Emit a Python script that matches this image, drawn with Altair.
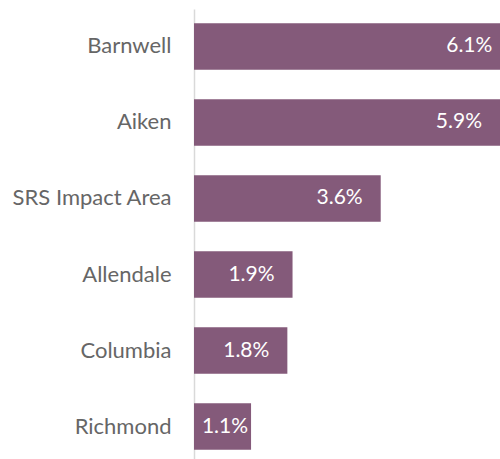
import altair as alt
import pandas as pd

# Share of jobs by county / area
areas = ["Barnwell", "Aiken", "SRS Impact Area", "Allendale", "Columbia", "Richmond"]
shares = [6.1, 5.9, 3.6, 1.9, 1.8, 1.1]
share_labels = ["6.1%", "5.9%", "3.6%", "1.9%", "1.8%", "1.1%"]

df = pd.DataFrame({"area": areas, "share": shares, "label": share_labels})

FONT = "Lato"
BAR = "#845A7A"
X_SCALE = alt.Scale(domain=[0, 5.9], nice=False)

y_enc = alt.Y(
    "area:N",
    sort=areas,
    title=None,
    scale=alt.Scale(paddingInner=0.39, paddingOuter=0.155, align=0.606),
    axis=alt.Axis(
        ticks=False,
        labelPadding=23,
        labelFont=FONT,
        labelFontSize=22,
        labelColor="#666666",
        domainColor="#d9d9d9",
        domainWidth=1.5,
        grid=False,
    ),
)

bars = alt.Chart(df).mark_bar(color=BAR, clip=True).encode(
    x=alt.X("share:Q", title=None, scale=X_SCALE, axis=None), y=y_enc
)

# value labels sit inside the bar end; short bars keep the label inside the bar
labels = (
    alt.Chart(df)
    .transform_calculate(anchor="max(datum.share, 1.39)")
    .mark_text(align="right", baseline="middle", dx=-18, color="white", font=FONT, fontSize=21)
    .encode(
        x=alt.X("anchor:Q", scale=X_SCALE, axis=None),
        y=alt.Y("area:N", sort=areas),
        text="label:N",
    )
)

chart = (
    alt.layer(bars, labels)
    .properties(
        width=306,
        height=450,
        autosize=alt.AutoSizeParams(type="none"),
        padding={"left": 194, "top": 9, "right": 0, "bottom": 0},
        background="white",
    )
    .configure_view(stroke=None)
)

chart.save("out.html", embed_options={"renderer": "svg", "actions": False})
